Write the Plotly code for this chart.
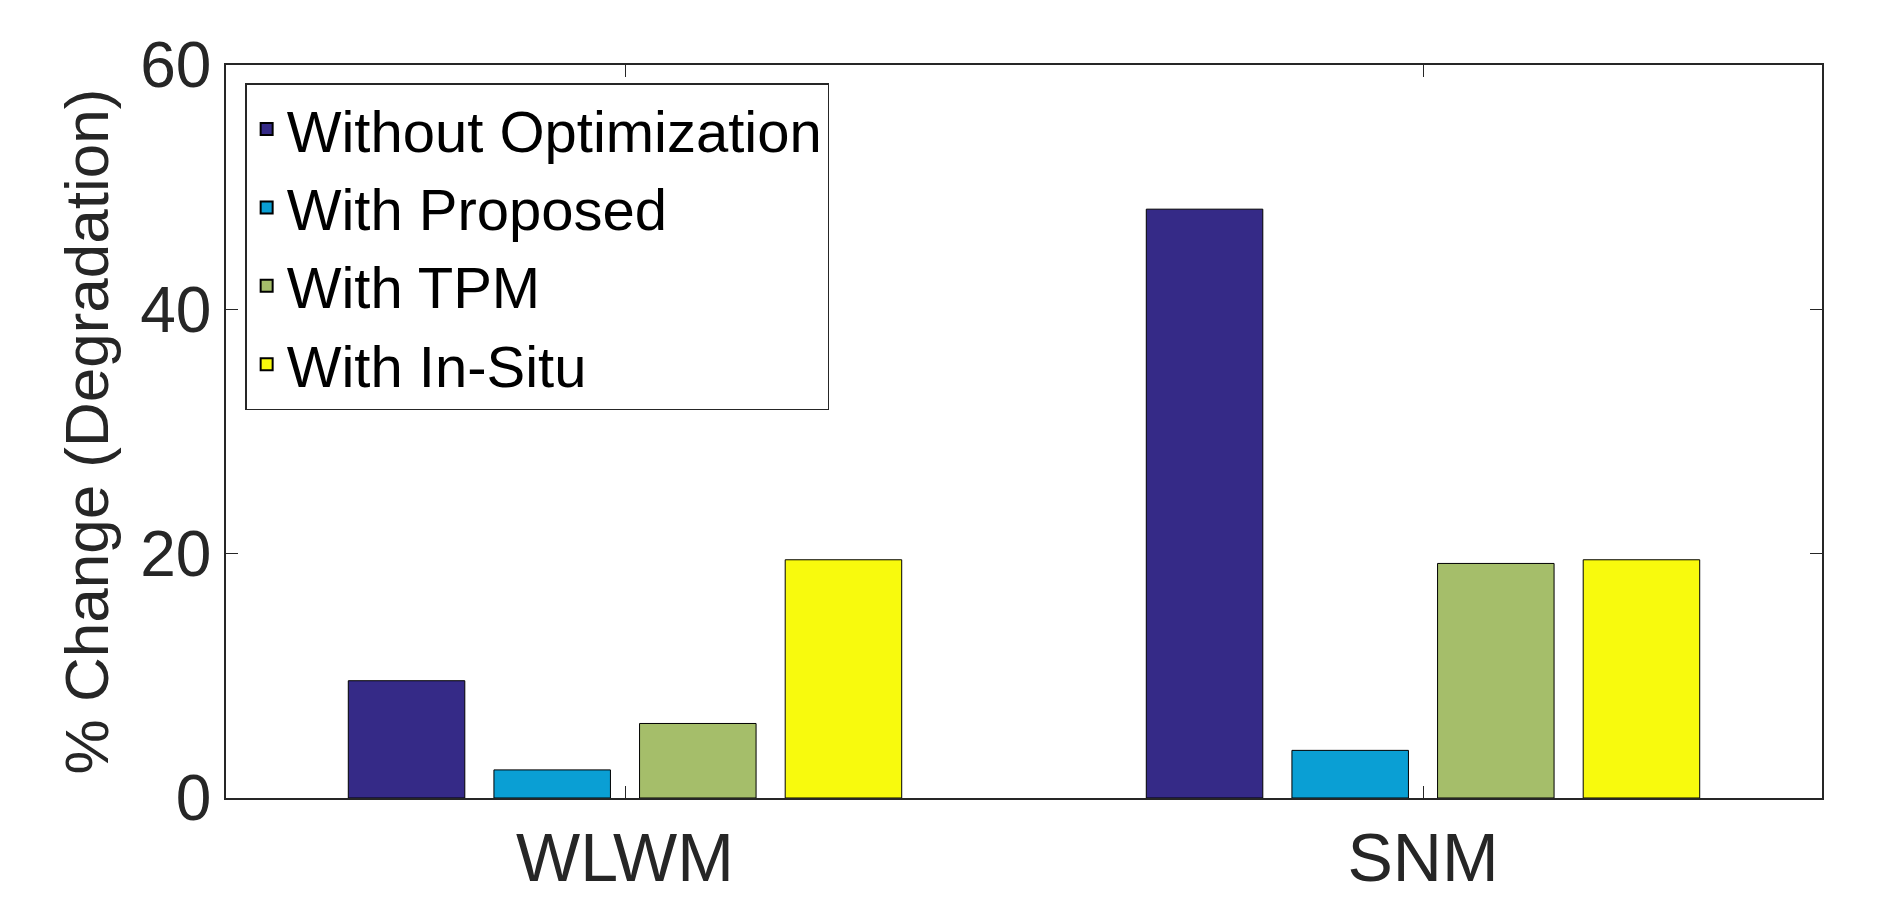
import plotly.graph_objects as go

categories = ["WLWM", "SNM"]
series_names = ["Without Optimization", "With Proposed", "With TPM", "With In-Situ"]
without_opt = [9.6, 48.2]
with_proposed = [2.3, 3.9]
with_tpm = [6.1, 19.2]
with_insitu = [19.5, 19.5]
colors = ["#352a87", "#0a9fd4", "#a5be6a", "#f8fa0d"]
y_ticks = [0, 20, 40, 60]

fig = go.Figure()
for name, vals, c in zip(series_names, [without_opt, with_proposed, with_tpm, with_insitu], colors):
    fig.add_trace(go.Bar(x=categories, y=vals, name=name, marker=dict(color=c, line=dict(color="black", width=1))))

font = "Liberation Sans, Arial, sans-serif"
fig.update_layout(
    width=1880, height=920, barmode="group", bargap=0.27, bargroupgap=0.2,
    plot_bgcolor="white", paper_bgcolor="white",
    margin=dict(l=218, r=66, t=57, b=130),
    font=dict(family=font, color="#262626"),
    legend=dict(x=0.012, y=0.975, xanchor="left", yanchor="top", bgcolor="white",
                bordercolor="#262626", borderwidth=1.5, font=dict(size=58, color="black"),
                itemsizing="constant", tracegroupgap=0),
    xaxis=dict(range=[-0.5, 1.5], showline=True, linecolor="#262626", linewidth=1.5, mirror="ticks",
               ticks="inside", ticklen=12, tickcolor="#262626", tickfont=dict(size=68), showgrid=False),
    yaxis=dict(range=[0, 60], tickvals=y_ticks, showline=True, linecolor="#262626", linewidth=1.5,
               mirror="ticks", ticks="inside", ticklen=12, tickcolor="#262626", tickfont=dict(size=64),
               showgrid=False, zeroline=False,
               title=dict(text="% Change (Degradation)", font=dict(size=62), standoff=12)),
)
fig.write_html("out.html")
